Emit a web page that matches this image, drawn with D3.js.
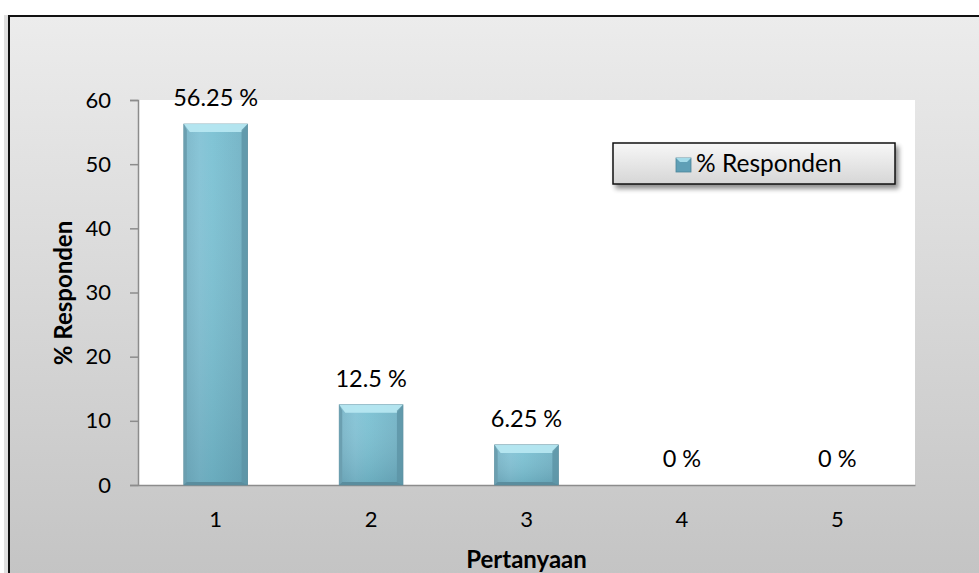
<!DOCTYPE html>
<html>
<head>
<meta charset="utf-8">
<script src="https://cdn.jsdelivr.net/npm/d3@7"></script>
<style>
  body { margin: 0; background: #fff; }
  svg { display: block; font-family: Lato, "Open Sans", sans-serif; }
</style>
</head>
<body>
<div class="chart"></div>
<script>
// chart data
const categories = ['1', '2', '3', '4', '5'];
const responden = [56.25, 12.5, 6.25, 0, 0];
const valueLabels = ['56.25 %', '12.5 %', '6.25 %', '0 %', '0 %'];
const yTicks = [0, 10, 20, 30, 40, 50, 60];
const seriesName = '% Responden';
const xTitle = 'Pertanyaan';
const yTitle = '% Responden';

const width = 979;
const height = 573;
const plot = {left: 138, top: 100, right: 915, bottom: 485};

const svg = d3.select('.chart')
  .append('svg')
  .attr('width', width)
  .attr('height', height);

const defs = svg.append('defs');

// background gradient of the chart frame
const bg = defs.append('linearGradient').attr('id', 'bg')
  .attr('x1', 0).attr('y1', 0).attr('x2', 0).attr('y2', 1);
bg.append('stop').attr('offset', '0%').attr('stop-color', '#ececec');
bg.append('stop').attr('offset', '100%').attr('stop-color', '#c1c1c1');

const barGrad = defs.append('linearGradient').attr('id', 'barGrad')
  .attr('x1', 0).attr('y1', 0).attr('x2', 1).attr('y2', 0);
barGrad.append('stop').attr('offset', '0%').attr('stop-color', '#78b4c7');
barGrad.append('stop').attr('offset', '25%').attr('stop-color', '#82c2d5');
barGrad.append('stop').attr('offset', '45%').attr('stop-color', '#7ac1d3');
barGrad.append('stop').attr('offset', '100%').attr('stop-color', '#6fafc2');

const barShade = defs.append('linearGradient').attr('id', 'barShade')
  .attr('x1', 0).attr('y1', 0).attr('x2', 0).attr('y2', 1);
barShade.append('stop').attr('offset', '0%').attr('stop-color', '#ffffff').attr('stop-opacity', 0.05);
barShade.append('stop').attr('offset', '100%').attr('stop-color', '#2f5f70').attr('stop-opacity', 0.22);

const legGrad = defs.append('linearGradient').attr('id', 'legGrad')
  .attr('x1', 0).attr('y1', 0).attr('x2', 0).attr('y2', 1);
legGrad.append('stop').attr('offset', '0%').attr('stop-color', '#f7f7f7');
legGrad.append('stop').attr('offset', '100%').attr('stop-color', '#d6d6d6');

const shadow = defs.append('filter').attr('id', 'shadow')
  .attr('x', '-10%').attr('y', '-30%').attr('width', '130%').attr('height', '180%');
shadow.append('feGaussianBlur').attr('in', 'SourceAlpha').attr('stdDeviation', 2.5);
shadow.append('feOffset').attr('dx', 3).attr('dy', 4).attr('result', 'off');
shadow.append('feComponentTransfer').append('feFuncA').attr('type', 'linear').attr('slope', 0.45);
const merge = shadow.append('feMerge');
merge.append('feMergeNode');
merge.append('feMergeNode').attr('in', 'SourceGraphic');

// frame
svg.append('rect')
  .attr('x', 6).attr('y', 17)
  .attr('width', 1000).attr('height', 600)
  .attr('fill', 'none')
  .attr('stroke', '#e0e0e0')
  .attr('stroke-width', 4);
svg.append('rect')
  .attr('x', 9).attr('y', 16)
  .attr('width', 1000).attr('height', 600)
  .attr('fill', 'url(#bg)')
  .attr('stroke', '#111')
  .attr('stroke-width', 2);

// plot area
svg.append('rect')
  .attr('x', plot.left).attr('y', plot.top)
  .attr('width', plot.right - plot.left)
  .attr('height', plot.bottom - plot.top)
  .attr('fill', '#fff');

const x = d3.scaleBand()
  .domain(categories)
  .range([plot.left, plot.right])
  .paddingInner(0.59)
  .paddingOuter(0.295);

const y = d3.scaleLinear()
  .domain([0, 60])
  .range([plot.bottom, plot.top]);

// y axis
const yAxis = svg.append('g')
  .attr('transform', `translate(${plot.left},0)`)
  .call(d3.axisLeft(y).tickValues(yTicks).tickSize(8).tickPadding(19));
yAxis.select('.domain').attr('stroke', '#8c8c8c').attr('stroke-width', 1.5);
yAxis.selectAll('.tick line').attr('stroke', '#8c8c8c').attr('stroke-width', 1.5);
yAxis.selectAll('.tick text')
  .attr('font-size', 22)
  .attr('font-family', 'Lato, sans-serif')
  .attr('fill', '#000');

// x axis
const xAxis = svg.append('g')
  .attr('transform', `translate(0,${plot.bottom})`)
  .call(d3.axisBottom(x).tickSize(0).tickPadding(26));
xAxis.select('.domain').attr('stroke', '#8c8c8c').attr('stroke-width', 1.5);
xAxis.selectAll('.tick text')
  .attr('font-size', 22)
  .attr('font-family', 'Lato, sans-serif')
  .attr('fill', '#000');

// bars
const data = categories.map((c, i) => ({cat: c, value: responden[i], label: valueLabels[i]}));
const bars = svg.selectAll('g.bar')
  .data(data.filter(d => d.value > 0))
  .enter()
  .append('g')
  .attr('class', 'bar');

const bev = 6;
bars.append('rect')
  .attr('x', d => x(d.cat))
  .attr('y', d => y(d.value))
  .attr('width', x.bandwidth())
  .attr('height', d => y(0) - y(d.value))
  .attr('fill', 'url(#barGrad)')
  .attr('stroke', '#5f8f9f')
  .attr('stroke-width', 0.8);
bars.append('rect')
  .attr('x', d => x(d.cat))
  .attr('y', d => y(d.value))
  .attr('width', x.bandwidth())
  .attr('height', d => y(0) - y(d.value))
  .attr('fill', 'url(#barShade)');
// top bevel highlight
bars.append('path')
  .attr('d', d => {
    const x0 = x(d.cat), x1 = x0 + x.bandwidth(), t = y(d.value);
    return `M${x0},${t} L${x1},${t} L${x1 - bev},${t + bev + 2} L${x0 + bev},${t + bev + 2} Z`;
  })
  .attr('fill', '#b9e9f3')
  .attr('opacity', 0.9);
// left and right bevel edges
bars.append('path')
  .attr('d', d => {
    const x0 = x(d.cat), t = y(d.value), b = y(0);
    return `M${x0},${t} L${x0 + 3},${t + bev} L${x0 + 3},${b - 2} L${x0},${b} Z`;
  })
  .attr('fill', '#6b9fb0');
bars.append('path')
  .attr('d', d => {
    const x1 = x(d.cat) + x.bandwidth(), t = y(d.value), b = y(0);
    return `M${x1},${t} L${x1 - bev},${t + bev} L${x1 - bev},${b - 3} L${x1},${b} Z`;
  })
  .attr('fill', '#5d93a5')
  .attr('opacity', 0.8);
// bottom edge
bars.append('path')
  .attr('d', d => {
    const x0 = x(d.cat), x1 = x0 + x.bandwidth(), b = y(0);
    return `M${x0},${b} L${x0 + 3},${b - 3} L${x1 - bev},${b - 3} L${x1},${b} Z`;
  })
  .attr('fill', '#5a8d9e');

// value labels
svg.selectAll('text.values')
  .data(data)
  .enter()
  .append('text')
  .attr('class', 'values')
  .text(d => d.label)
  .attr('x', d => x(d.cat) + x.bandwidth() / 2)
  .attr('y', d => y(d.value) - 18)
  .attr('text-anchor', 'middle')
  .attr('font-size', 23.5)
  .attr('fill', '#000');

// axis titles
svg.append('text')
  .text(xTitle)
  .attr('x', (plot.left + plot.right) / 2)
  .attr('y', 568)
  .attr('text-anchor', 'middle')
  .attr('font-size', 24)
  .attr('font-weight', 'bold')
  .attr('fill', '#000');

svg.append('text')
  .text(yTitle)
  .attr('transform', 'translate(72,293) rotate(-90)')
  .attr('text-anchor', 'middle')
  .attr('font-size', 24)
  .attr('font-weight', 'bold')
  .attr('fill', '#000');

// legend
const legend = svg.append('g').attr('transform', 'translate(613,143)');
legend.append('rect')
  .attr('width', 282).attr('height', 41)
  .attr('fill', 'url(#legGrad)')
  .attr('stroke', '#111')
  .attr('stroke-width', 1.5)
  .attr('filter', 'url(#shadow)');
legend.append('rect')
  .attr('x', 63).attr('y', 15)
  .attr('width', 15).attr('height', 14)
  .attr('fill', '#5f9fb6')
  .attr('stroke', '#4d8599')
  .attr('stroke-width', 0.8);
legend.append('path')
  .attr('d', 'M63,15 L78,15 L74,19 L67,19 Z')
  .attr('fill', '#a4dbe9');
legend.append('text')
  .text(seriesName)
  .attr('x', 83).attr('y', 29)
  .attr('font-size', 24.5)
  .attr('fill', '#000');
</script>
</body>
</html>
